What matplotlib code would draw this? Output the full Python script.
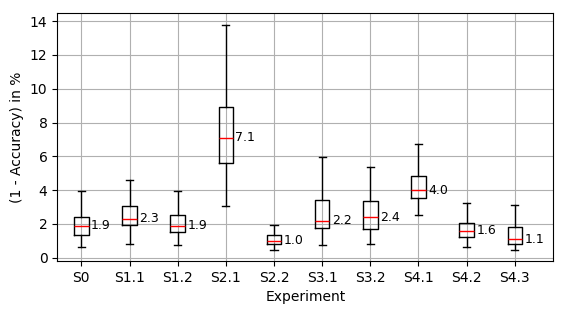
import matplotlib
matplotlib.use("Agg")
import matplotlib.pyplot as plt

labels = ["S0", "S1.1", "S1.2", "S2.1", "S2.2", "S3.1", "S3.2", "S4.1", "S4.2", "S4.3"]
whislo = [0.65, 0.81, 0.75, 3.07, 0.47, 0.75, 0.81, 2.53, 0.63, 0.47]
q1 = [1.35, 1.94, 1.52, 5.58, 0.79, 1.76, 1.70, 3.54, 1.22, 0.81]
med = [1.9, 2.3, 1.9, 7.1, 1.0, 2.2, 2.4, 4.0, 1.6, 1.1]
q3 = [2.43, 3.07, 2.53, 8.90, 1.35, 3.42, 3.36, 4.82, 2.05, 1.82]
whishi = [3.95, 4.57, 3.97, 13.8, 1.94, 5.97, 5.38, 6.70, 3.24, 3.13]

stats = []
for i, lab in enumerate(labels):
    stats.append(dict(label=lab, whislo=whislo[i], q1=q1[i], med=med[i],
                      q3=q3[i], whishi=whishi[i], fliers=[]))

fig = plt.figure(figsize=(5.66, 3.14), dpi=100)
ax = fig.add_axes([0.1012, 0.1688, 0.8763, 0.789])
ax.bxp(stats, widths=0.3, medianprops=dict(color="red"))
ax.grid(True)
ax.set_axisbelow(True)
for i, m in enumerate(med):
    ax.text(i + 1 + 0.2, m, f"{m:.1f}", va="center", ha="left", fontsize=9)
ax.set_xlim(0.5, 10.8)
ax.set_xlabel("Experiment")
ax.set_ylabel("(1 - Accuracy) in %")
ax.set_yticks(range(0, 15, 2))
fig.savefig("out.png", dpi=100)
